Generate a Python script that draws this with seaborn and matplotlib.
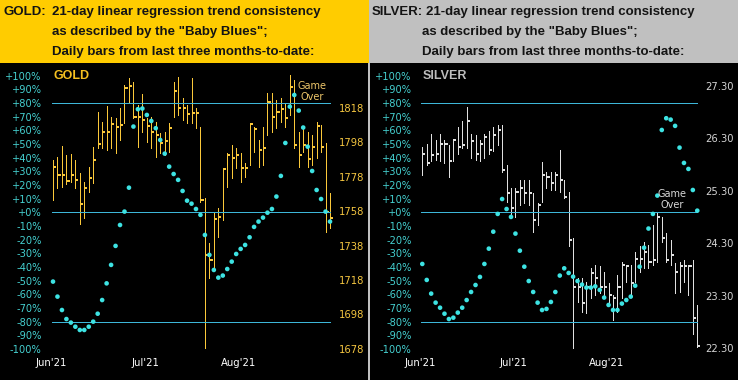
import matplotlib
matplotlib.use("Agg")
import matplotlib.pyplot as plt
from matplotlib.patches import Rectangle
import numpy as np
import pandas as pd
import seaborn as sns

sns.set_theme(style="dark")
plt.rcParams["font.family"] = ["DejaVu Sans"]

# ---------------- data ----------------
months = ["Jun'21", "Jul'21", "Aug'21"]
month_tick_pos = [-0.5, 20.6, 41.6]
pct_ticks = list(range(-100, 101, 10))
pct_ref_lines = [80, 0, -80]

gold_high = [1787.8, 1789.7, 1795.9, 1790.7, 1791.3, 1787.8, 1780.0, 1775.2, 1783.9, 1795.5,
             1815.9, 1810.1, 1819.4, 1813.0, 1812.0, 1817.8, 1831.4, 1835.2, 1833.3, 1819.7,
             1825.9, 1812.0, 1813.0, 1810.1, 1803.3, 1804.2, 1809.1, 1833.3, 1835.8, 1823.6,
             1819.7, 1835.2, 1817.8, 1807.1, 1765.5, 1739.3, 1757.7, 1759.7, 1782.9, 1791.6,
             1796.5, 1794.5, 1791.6, 1785.8, 1809.1, 1807.1, 1799.4, 1807.1, 1826.5, 1826.5,
             1822.7, 1823.6, 1820.7, 1837.2, 1834.3, 1804.2, 1807.1, 1804.2, 1802.3, 1810.1,
             1808.1, 1797.5, 1768.4]
gold_low = [1764.5, 1771.7, 1772.3, 1773.8, 1775.2, 1771.3, 1750.4, 1753.9, 1769.4, 1774.2,
            1794.5, 1794.5, 1793.6, 1794.5, 1791.6, 1799.4, 1809.1, 1820.7, 1812.0, 1795.5,
            1804.2, 1798.4, 1794.5, 1789.7, 1791.6, 1790.7, 1792.6, 1813.0, 1813.9, 1811.0,
            1809.1, 1809.1, 1806.2, 1763.5, 1678.3, 1719.0, 1723.8, 1743.2, 1752.9, 1772.3,
            1777.1, 1782.9, 1775.2, 1778.1, 1784.9, 1792.6, 1783.9, 1784.9, 1802.3, 1804.2,
            1806.2, 1810.1, 1807.1, 1813.9, 1794.5, 1783.9, 1792.6, 1783.9, 1784.9, 1788.7,
            1792.6, 1746.1, 1748.0]
gold_close = [1783.9, 1779.0, 1779.0, 1775.8, 1779.0, 1776.1, 1762.0, 1771.3, 1777.5, 1787.8,
              1797.1, 1804.2, 1804.2, 1808.5, 1807.1, 1808.1, 1829.8, 1831.0, 1813.0, 1813.0,
              1811.0, 1807.7, 1804.2, 1802.3, 1797.5, 1799.0, 1806.6, 1828.1, 1817.8, 1817.8,
              1814.3, 1814.9, 1814.9, 1764.5, 1732.5, 1729.6, 1753.3, 1754.8, 1782.3, 1790.7,
              1788.7, 1790.7, 1782.9, 1782.9, 1808.5, 1805.8, 1793.6, 1794.9, 1821.3, 1813.0,
              1815.9, 1817.4, 1812.0, 1830.4, 1796.5, 1790.7, 1796.5, 1788.3, 1795.5, 1807.7,
              1795.5, 1757.7, 1753.9]
gold_baby_blues = [-50.7, -61.7, -71.5, -78.1, -80.7, -83.7, -86.1, -86.1, -83.7, -80.0,
                   -74.2, -64.2, -52.0, -38.5, -24.6, -9.3, 0.5, 18.0, 62.7, 75.4,
                   75.9, 71.2, 66.8, 61.5, 52.9, 42.9, 33.4, 28.0, 23.7, 15.6,
                   8.5, 6.3, 2.4, -1.9, -16.6, -31.2, -42.2, -47.8, -46.3, -41.5,
                   -36.1, -30.5, -26.8, -23.9, -18.3, -10.7, -6.8, -3.9, -0.3, 2.4,
                   11.5, 26.6, 50.7, 77.3, 85.8, 74.4, 62.0, 48.0, 30.2, 16.3,
                   9.7, 0.5, -6.8]
gold_price_ticks = [1678, 1698, 1718, 1738, 1758, 1778, 1798, 1818]

silver_high = [26.14, 26.20, 26.39, 26.27, 26.39, 26.27, 26.17, 26.27, 26.52, 26.62,
               26.90, 26.39, 26.36, 26.27, 26.39, 26.43, 26.52, 26.55, 26.55, 25.79,
               25.35, 25.35, 25.51, 25.51, 25.51, 25.25, 25.06, 25.85, 25.66, 25.66,
               25.66, 26.08, 25.51, 25.28, 24.40, 23.63, 23.63, 23.57, 23.82, 23.89,
               23.86, 23.76, 23.54, 23.32, 23.70, 23.95, 23.89, 23.89, 24.14, 24.24,
               24.33, 24.27, 24.65, 24.90, 24.81, 24.49, 24.36, 23.92, 23.95, 23.98,
               23.89, 23.98, 23.13]
silver_low = [25.60, 25.79, 25.86, 25.89, 25.86, 25.82, 25.57, 25.86, 26.01, 26.11,
              26.11, 25.92, 25.89, 25.86, 25.92, 26.01, 26.05, 26.17, 25.66, 25.09,
              24.81, 24.81, 25.03, 25.06, 25.03, 24.52, 24.65, 25.09, 25.35, 25.32,
              25.32, 25.28, 25.16, 24.24, 22.30, 23.19, 23.00, 22.97, 23.25, 23.32,
              23.35, 23.25, 23.13, 22.84, 23.00, 23.25, 23.57, 23.32, 23.57, 23.76,
              23.82, 23.82, 23.89, 23.95, 24.33, 23.95, 23.89, 23.35, 23.38, 23.57,
              23.32, 22.58, 22.33]
silver_close = [26.01, 25.82, 25.98, 26.01, 26.20, 26.20, 25.86, 26.27, 26.14, 26.17,
                26.62, 26.24, 26.01, 26.20, 26.33, 26.08, 26.36, 26.46, 25.70, 25.25,
                24.97, 25.28, 25.35, 25.25, 25.25, 24.74, 25.03, 25.60, 25.57, 25.44,
                25.60, 25.51, 25.19, 24.36, 23.47, 23.47, 23.16, 23.47, 23.73, 23.63,
                23.47, 23.47, 23.32, 23.25, 23.47, 23.89, 23.86, 23.54, 24.01, 24.01,
                24.14, 23.95, 23.98, 24.81, 24.40, 23.98, 24.08, 23.76, 23.86, 23.86,
                23.87, 22.88, 22.34]
silver_baby_blues = [-37.8, -49.5, -59.5, -66.1, -69.8, -74.2, -78.1, -77.1, -73.4, -69.8,
                     -64.2, -58.3, -53.2, -47.3, -37.8, -26.6, -14.2, -1.2, 9.7, 2.4,
                     -3.4, -15.6, -28.1, -39.8, -50.3, -58.3, -66.1, -71.5, -70.7, -65.6,
                     -58.3, -46.3, -41.0, -44.4, -47.1, -50.3, -52.9, -55.1, -55.1, -54.2,
                     -56.8, -62.4, -67.8, -71.5, -71.5, -66.8, -64.2, -61.7, -53.7, -39.8,
                     -25.9, -11.9, -1.2, 12.2, 60.2, 68.8, 67.8, 63.2, 47.3, 36.1,
                     31.7, 16.3, 1.2]
silver_price_ticks = [22.30, 23.30, 24.30, 25.30, 26.30, 27.30]

header_lines = ["21-day linear regression trend consistency",
                'as described by the "Baby Blues";',
                "Daily bars from last three months-to-date:"]

# ---------------- style ----------------
W, H = 738, 380
GOLD_BG = "#FFCC00"
SILVER_BG = "#C0C0C0"
REF_LINE = "#3DB6D8"
DOT = "#3DE3E3"
PCT_TXT = "#45D0D0"
GOLD_BAR = "#FAC83A"
SILVER_BAR = "#E0E0E0"
HDR_FONT = dict(family=["Liberation Sans", "DejaVu Sans"], fontweight="bold",
                fontsize=9.5, color="#141414", va="baseline")


def frac_rect(x0, y0, x1, y1):
    return [x0 / W, 1 - y1 / H, (x1 - x0) / W, (y1 - y0) / H]


fig = plt.figure(figsize=(W / 100, H / 100), dpi=100, facecolor=SILVER_BG)
fig.add_artist(Rectangle((0, 1 - 63 / H), 369 / W, 63 / H, transform=fig.transFigure,
                         facecolor=GOLD_BG, edgecolor="none", zorder=0))


def header(x_name, x_first, x_rest, name):
    fig.text(x_name / W, 1 - 15 / H, name, **HDR_FONT)
    fig.text(x_first / W, 1 - 15 / H, header_lines[0], **HDR_FONT)
    fig.text(x_rest / W, 1 - 35 / H, header_lines[1], **HDR_FONT)
    fig.text(x_rest / W, 1 - 55 / H, header_lines[2], **HDR_FONT)


def panel(rect, xlim, price_lim, high, low, close, bb, price_ticks, price_fmt,
          bar_color, price_color, name, name_color, note_xy, note_color, price_pad):
    df = pd.DataFrame({"bar": np.arange(len(close)), "high": high, "low": low,
                       "close": close, "bb": bb})
    ax_p = fig.add_axes(rect)
    ax_p.set_facecolor("black")
    ax_b = ax_p.twinx()

    ax_p.vlines(df["bar"], df["low"], df["high"], color=bar_color, lw=0.5,
                antialiased=False)
    ax_p.hlines(df["close"], df["bar"], df["bar"] + 0.7, color=bar_color, lw=1.2,
                antialiased=False)

    ax_b.hlines(pct_ref_lines, -0.3, len(df) - 1, color=REF_LINE, lw=0.5,
                antialiased=False)
    sns.scatterplot(data=df, x="bar", y="bb", ax=ax_b, s=11, color=DOT,
                    edgecolor="none", linewidth=0, legend=False, zorder=3)

    ax_p.set_xlim(xlim)
    ax_p.set_ylim(price_lim)
    ax_b.set_ylim(-122.7, 109.2)

    ax_p.set_xticks(month_tick_pos, months)
    ax_p.tick_params(axis="x", length=0, pad=-16, labelsize=7.3, labelcolor="white")
    ax_p.yaxis.tick_right()
    ax_p.set_yticks(price_ticks, [price_fmt.format(v) for v in price_ticks])
    ax_p.tick_params(axis="y", length=0, pad=price_pad, labelsize=7.2,
                     labelcolor=price_color)
    ax_b.yaxis.tick_left()
    ax_b.set_yticks(pct_ticks, [f"{v:+d}%" for v in pct_ticks])
    ax_b.tick_params(axis="y", length=0, pad=-30, labelsize=7.1, labelcolor=PCT_TXT)

    for a in (ax_p, ax_b):
        a.grid(False)
        a.set_xlabel("")
        a.set_ylabel("")
        for s in a.spines.values():
            s.set_visible(False)

    ax_b.text(0, 100, name, color=name_color, fontsize=9, fontweight="bold",
              family=["Liberation Sans", "DejaVu Sans"], ha="left", va="center")
    ax_b.text(note_xy[0], note_xy[1], "Game\nOver", color=note_color, fontsize=7,
              ha="center", va="center", linespacing=1.15)


header(3.3, 51.7, 51.7, "GOLD:")
header(372, 425.7, 421.7, "SILVER:")

panel(frac_rect(0, 63, 368, 380), (-53 / 4.468, (368 - 53) / 4.468), (1659.86, 1844.2),
      gold_high, gold_low, gold_close, gold_baby_blues, gold_price_ticks, "{:d}",
      GOLD_BAR, "#F5C640", "GOLD", "#F5C020", (58.0, 88.2), "#EDC66A", -20.7)

panel(frac_rect(370, 63, 738, 380), (-(422.3 - 370) / 4.435, (738 - 422.3) / 4.435),
      (21.696, 27.734), silver_high, silver_low, silver_close, silver_baby_blues,
      silver_price_ticks, "{:.2f}", SILVER_BAR, "#D4D4D4", "SILVER", "#BDBDBD",
      (56.3, 9.1), "#D8D8D8", -23.3)

fig.savefig("out.png", dpi=100, facecolor=fig.get_facecolor())
